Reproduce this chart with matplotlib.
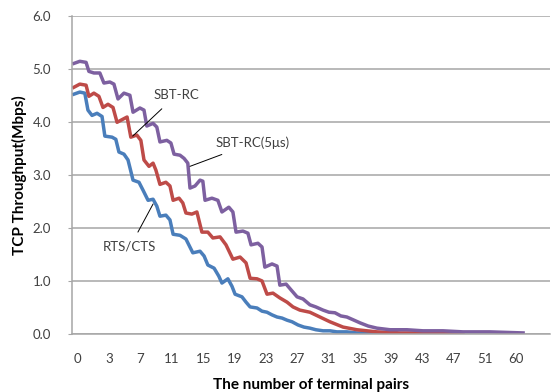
import numpy as np
from matplotlib import pyplot as plt

# category axis: tick labels sit at positions 0..14
tick_labels = ["0", "3", "7", "11", "15", "19", "23", "27", "31", "35", "39", "43", "47", "51", "60"]

# positions along the category axis (tick units) and throughput (Mbps)
rts_x = [-0.13, 0.06, 0.22, 0.32, 0.45, 0.61, 0.77, 0.86, 1.09, 1.21, 1.31, 1.47, 1.60, 1.76, 1.95,
         2.08, 2.24, 2.40, 2.52, 2.62, 2.81, 2.94, 3.04, 3.26, 3.45, 3.67, 3.90, 4.03, 4.15, 4.35,
         4.50, 4.60, 4.79, 4.92, 5.02, 5.24, 5.37, 5.50, 5.72, 5.88, 6.04, 6.20, 6.36, 6.52, 6.68,
         6.84, 7.03, 7.22, 7.41, 7.60, 7.83, 8.05, 8.27, 8.59, 8.91, 9.33, 9.81, 10.16]
rts_y = [4.52, 4.56, 4.54, 4.22, 4.12, 4.16, 4.10, 3.73, 3.71, 3.67, 3.43, 3.39, 3.28, 2.90, 2.86,
         2.71, 2.52, 2.54, 2.41, 2.22, 2.24, 2.15, 1.88, 1.86, 1.79, 1.53, 1.56, 1.47, 1.30, 1.24,
         1.09, 0.96, 1.04, 0.90, 0.75, 0.70, 0.60, 0.51, 0.49, 0.43, 0.41, 0.36, 0.32, 0.30, 0.26,
         0.23, 0.17, 0.13, 0.11, 0.08, 0.06, 0.06, 0.04, 0.04, 0.02, 0.02, 0.02, 0.02]

sbt_x = [-0.13, 0.06, 0.26, 0.35, 0.51, 0.67, 0.80, 0.96, 1.12, 1.25, 1.44, 1.57, 1.69, 1.88, 2.01,
         2.11, 2.27, 2.40, 2.49, 2.62, 2.81, 2.94, 3.04, 3.23, 3.35, 3.45, 3.64, 3.80, 3.96, 4.15,
         4.31, 4.54, 4.73, 4.95, 5.18, 5.37, 5.50, 5.72, 5.88, 6.04, 6.23, 6.45, 6.68, 6.87, 7.09,
         7.41, 7.73, 8.05, 8.47, 8.91, 9.55, 10.29, 10.93, 11.57, 12.30]
sbt_y = [4.65, 4.71, 4.69, 4.48, 4.54, 4.48, 4.27, 4.33, 4.27, 3.99, 4.05, 4.09, 3.71, 3.75, 3.65,
         3.28, 3.16, 3.22, 3.09, 2.82, 2.86, 2.79, 2.52, 2.56, 2.47, 2.28, 2.26, 2.30, 1.92, 1.92,
         1.81, 1.83, 1.68, 1.41, 1.45, 1.34, 1.05, 1.04, 1.00, 0.75, 0.77, 0.68, 0.60, 0.51, 0.45,
         0.41, 0.32, 0.23, 0.13, 0.08, 0.04, 0.02, 0.02, 0.02, 0.02]

sbt5_x = [-0.13, 0.06, 0.26, 0.35, 0.51, 0.70, 0.83, 1.02, 1.15, 1.28, 1.47, 1.66, 1.76, 1.98, 2.11,
          2.20, 2.40, 2.52, 2.62, 2.84, 2.97, 3.07, 3.26, 3.39, 3.51, 3.58, 3.74, 3.90, 3.99, 4.06,
          4.28, 4.47, 4.60, 4.82, 4.95, 5.05, 5.27, 5.43, 5.53, 5.75, 5.88, 5.97, 6.20, 6.36, 6.45,
          6.65, 6.81, 7.00, 7.19, 7.41, 7.60, 7.83, 8.02, 8.21, 8.40, 8.59, 8.82, 9.01, 9.27, 9.55,
          9.97, 10.51, 11.02, 11.66, 12.30, 13.16, 14.22]
sbt5_y = [5.10, 5.14, 5.12, 4.95, 4.92, 4.92, 4.73, 4.75, 4.71, 4.43, 4.54, 4.50, 4.18, 4.26, 4.22,
          3.92, 3.97, 3.90, 3.62, 3.65, 3.60, 3.39, 3.37, 3.31, 3.22, 2.75, 2.79, 2.90, 2.88, 2.52,
          2.56, 2.52, 2.30, 2.39, 2.30, 1.92, 1.94, 1.90, 1.68, 1.71, 1.64, 1.26, 1.32, 1.28, 0.92,
          0.94, 0.83, 0.70, 0.66, 0.55, 0.51, 0.45, 0.41, 0.40, 0.34, 0.32, 0.26, 0.21, 0.15, 0.11,
          0.08, 0.08, 0.06, 0.06, 0.04, 0.04, 0.02]

plt.rcParams['font.family'] = ['Lato', 'DejaVu Sans']

fig = plt.figure(figsize=(5.52, 3.92), dpi=100)
ax = fig.add_axes([0.1304, 0.148, 0.866, 0.812])

ax.plot(rts_x, rts_y, color='#4a7ebb', lw=2.5, solid_joinstyle='round')
ax.plot(sbt_x, sbt_y, color='#be4b48', lw=2.5, solid_joinstyle='round')
ax.plot(sbt5_x, sbt5_y, color='#7d60a0', lw=2.5, solid_joinstyle='round')

ax.set_xlim(-0.19, 15.08)
ax.set_ylim(0, 6)
ax.set_yticks(np.arange(0, 6.1, 1.0))
ax.set_yticklabels([f"{v:.1f}" for v in np.arange(0, 6.1, 1.0)])
ax.set_xticks(range(len(tick_labels)))
ax.set_xticklabels(tick_labels)

ax.grid(axis='y', color='#a6a6a6', lw=1.1)
ax.set_axisbelow(True)
for s in ['top', 'right']:
    ax.spines[s].set_visible(False)
for s in ['left', 'bottom']:
    ax.spines[s].set_color('#a6a6a6')
    ax.spines[s].set_linewidth(1.1)
ax.tick_params(axis='y', length=3, color='#a6a6a6', pad=12, labelsize=9.5, labelcolor='#404040')
ax.tick_params(axis='x', length=0, pad=14, labelsize=9.5, labelcolor='#404040')

ax.set_ylabel("TCP Throughput(Mbps)", fontsize=11, fontweight='bold', labelpad=4)
ax.set_xlabel("The number of terminal pairs", fontsize=11, fontweight='bold', labelpad=9)

ann = dict(fontsize=9.5, color='#404040', ha='center', va='center',
           arrowprops=dict(arrowstyle='-', color='black', lw=0.7, shrinkA=5, shrinkB=0))
ax.annotate("SBT-RC", xy=(1.75, 3.73), xytext=(3.14, 4.5), **ann)
ax.annotate("SBT-RC(5μs)", xy=(3.58, 3.16), xytext=(5.58, 3.6), **ann)
ax.annotate("RTS/CTS", xy=(2.40, 2.45), xytext=(1.66, 1.64), **ann)

fig.savefig("out.png", dpi=100)
